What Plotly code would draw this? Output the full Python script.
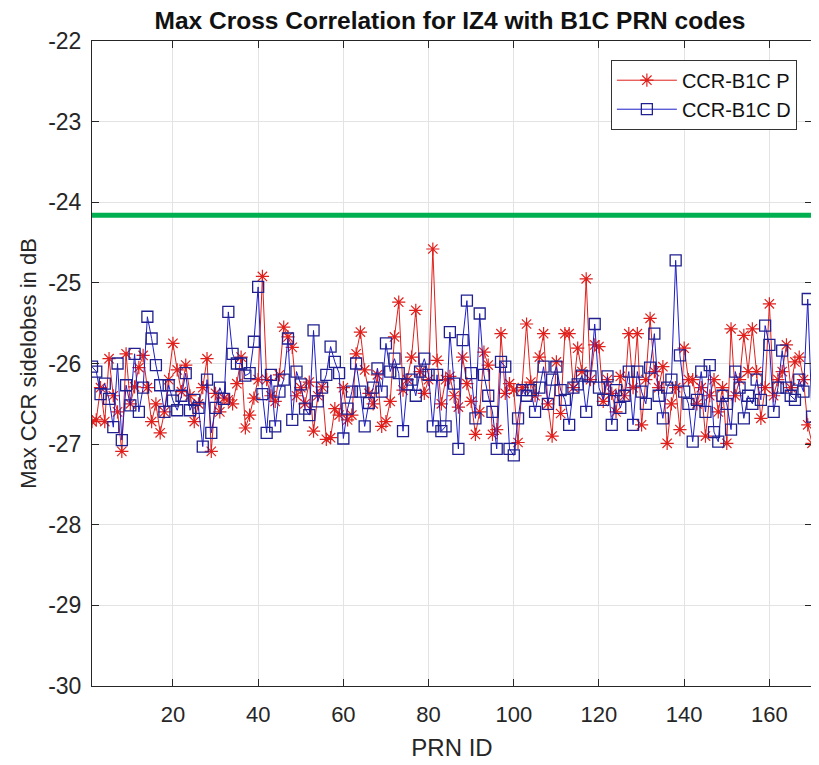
import plotly.graph_objects as go

prn = list(range(1, 171))

ccr_p = [
    -26.72, -26.70, -26.30, -26.72, -25.94, -26.40, -26.60, -27.09, -25.88, -26.50,
    -26.29, -26.05, -25.90, -26.30, -26.72, -26.50, -26.86, -26.60, -26.20, -25.75,
    -26.08, -26.35, -26.02, -26.40, -26.72, -26.50, -26.30, -25.94, -27.09, -26.37,
    -26.60, -26.43, -26.45, -26.50, -26.25, -25.92, -26.80, -26.64, -26.43, -26.20,
    -24.92, -26.20, -26.40, -26.47, -26.14, -25.55, -25.67, -25.80, -26.40, -26.30,
    -26.50, -26.23, -26.84, -26.40, -26.29, -26.94, -26.92, -26.56, -26.64, -26.30,
    -26.70, -26.64, -25.88, -25.61, -26.08, -26.37, -26.50, -26.14, -26.78, -26.72,
    -26.47, -25.67, -25.24, -26.33, -26.20, -25.92, -25.34, -26.10, -26.37, -26.20,
    -24.58, -25.96, -26.50, -26.20, -26.16, -26.40, -26.54, -25.92, -26.25, -26.47,
    -26.88, -26.60, -25.86, -26.02, -26.88, -26.82, -25.63, -26.37, -26.25, -26.33,
    -26.98, -26.30, -25.51, -26.23, -26.40, -25.92, -25.63, -26.50, -26.90, -25.98,
    -26.62, -25.63, -25.63, -26.30, -25.81, -26.10, -24.95, -26.20, -25.77, -25.79,
    -26.47, -26.20, -26.37, -26.60, -26.16, -26.40, -25.63, -26.30, -25.63, -26.76,
    -26.20, -25.44, -26.10, -26.30, -26.04, -26.99, -26.50, -26.30, -26.82, -25.81,
    -26.20, -26.20, -26.50, -26.30, -26.90, -26.40, -26.20, -26.60, -26.30, -26.99,
    -25.57, -26.40, -26.20, -25.65, -26.10, -25.57, -26.10, -26.68, -26.30, -25.26,
    -26.40, -26.20, -26.10, -25.77, -26.30, -25.98, -25.92, -26.20, -26.76, -26.99,
]

ccr_d = [
    -26.04, -26.10, -26.38, -26.25, -26.44, -26.79, -26.00, -26.95, -26.27, -26.52,
    -25.88, -26.60, -26.30, -25.42, -25.69, -26.02, -26.27, -26.60, -26.27, -26.46,
    -26.58, -26.40, -26.12, -26.58, -26.45, -26.55, -27.03, -26.20, -26.86, -26.55,
    -26.30, -26.44, -25.36, -25.88, -26.00, -26.00, -26.15, -26.12, -25.73, -25.05,
    -26.38, -26.86, -26.14, -26.78, -26.35, -26.20, -25.69, -26.70, -26.10, -26.26,
    -26.56, -26.64, -25.59, -26.47, -26.30, -26.14, -25.79, -25.98, -26.12, -26.93,
    -26.56, -26.35, -26.00, -26.35, -26.78, -26.49, -26.30, -26.06, -26.35, -25.75,
    -26.10, -25.94, -26.12, -26.84, -26.26, -26.20, -26.40, -26.10, -25.94, -26.14,
    -26.78, -26.14, -26.84, -26.78, -25.61, -26.25, -27.06, -25.71, -25.22, -26.12,
    -26.68, -25.38, -26.14, -26.40, -26.60, -27.06, -25.98, -26.04, -27.06, -27.14,
    -26.68, -26.33, -26.40, -26.33, -26.60, -26.30, -26.04, -26.50, -26.20, -26.04,
    -26.33, -26.45, -26.76, -26.30, -26.26, -26.15, -26.60, -26.16, -25.51, -26.30,
    -26.45, -26.16, -26.76, -26.33, -26.55, -26.40, -26.10, -26.76, -26.10, -26.35,
    -26.50, -26.05, -25.63, -26.40, -26.68, -26.30, -26.20, -24.72, -25.90, -26.35,
    -26.50, -26.97, -26.45, -26.10, -26.60, -26.02, -26.85, -26.97, -26.40, -26.50,
    -26.82, -26.10, -26.30, -26.68, -26.40, -26.50, -26.20, -26.45, -25.53, -25.77,
    -26.60, -26.30, -25.84, -26.30, -26.40, -26.45, -26.20, -26.35, -25.20, -26.66,
]

threshold_x = [1, 170]
threshold_y = [-24.16, -24.16]

x_ticks = [20, 40, 60, 80, 100, 120, 140, 160]
y_ticks = [-30, -29, -28, -27, -26, -25, -24, -23, -22]
y_tick_text = ["-30", "-29", "-28", "-27", "-26", "-25", "-24", "-23", "-22"]

FONT = "Liberation Sans, Arial, sans-serif"
AX = "#262626"

fig = go.Figure()
fig.add_trace(go.Scatter(
    x=prn, y=ccr_p, mode="lines+markers", name="CCR-B1C P",
    line=dict(color="#e0201c", width=1),
    marker=dict(symbol="asterisk-open", size=11, color="#e0201c",
                line=dict(color="#e0201c", width=1.2)),
))
fig.add_trace(go.Scatter(
    x=prn, y=ccr_d, mode="lines+markers", name="CCR-B1C D",
    line=dict(color="#1c1cc8", width=1),
    marker=dict(symbol="square-open", size=11, color="#202090",
                line=dict(color="#202090", width=1.3)),
))
fig.add_trace(go.Scatter(
    x=threshold_x, y=threshold_y, mode="lines", showlegend=False,
    line=dict(color="#00b050", width=5), hoverinfo="skip",
))

fig.update_layout(
    width=811, height=757,
    margin=dict(l=84, r=7, t=33, b=79, autoexpand=False),
    paper_bgcolor="white", plot_bgcolor="white",
    font=dict(family=FONT, color=AX),
    title=dict(text="<b>Max Cross Correlation for IZ4 with B1C PRN codes</b>",
               x=0.545, xanchor="center", y=0.984, yanchor="middle",
               font=dict(family=FONT, size=24.5, color="#111111")),
    legend=dict(x=0.979, y=0.971, xanchor="right", yanchor="top",
                bgcolor="white", bordercolor="#333333", borderwidth=1,
                font=dict(family=FONT, size=20, color="#111111"),
                itemwidth=60, tracegroupgap=0),
    showlegend=True,
)
fig.update_xaxes(
    range=[1, 170], tickvals=x_ticks, ticks="inside", ticklen=7,
    tickcolor=AX, showline=True, linecolor=AX, linewidth=1, mirror="ticks",
    showgrid=True, gridcolor="#e3e3e3", gridwidth=1, zeroline=False, automargin=False,
    tickfont=dict(family=FONT, size=22, color=AX), ticklabelstandoff=9,
    title=dict(text="PRN ID", font=dict(family=FONT, size=24, color=AX), standoff=12),
)
fig.update_yaxes(
    range=[-30, -22], tickvals=y_ticks, ticktext=y_tick_text, ticks="inside", ticklen=7,
    tickcolor=AX, showline=True, linecolor=AX, linewidth=1, mirror="ticks",
    showgrid=True, gridcolor="#e3e3e3", gridwidth=1, zeroline=False, automargin=False,
    tickfont=dict(family=FONT, size=23, color=AX), ticklabelstandoff=5,
    title=dict(text="Max CCR sidelobes in dB", font=dict(family=FONT, size=22, color=AX), standoff=5),
)

fig.write_html("out.html")
